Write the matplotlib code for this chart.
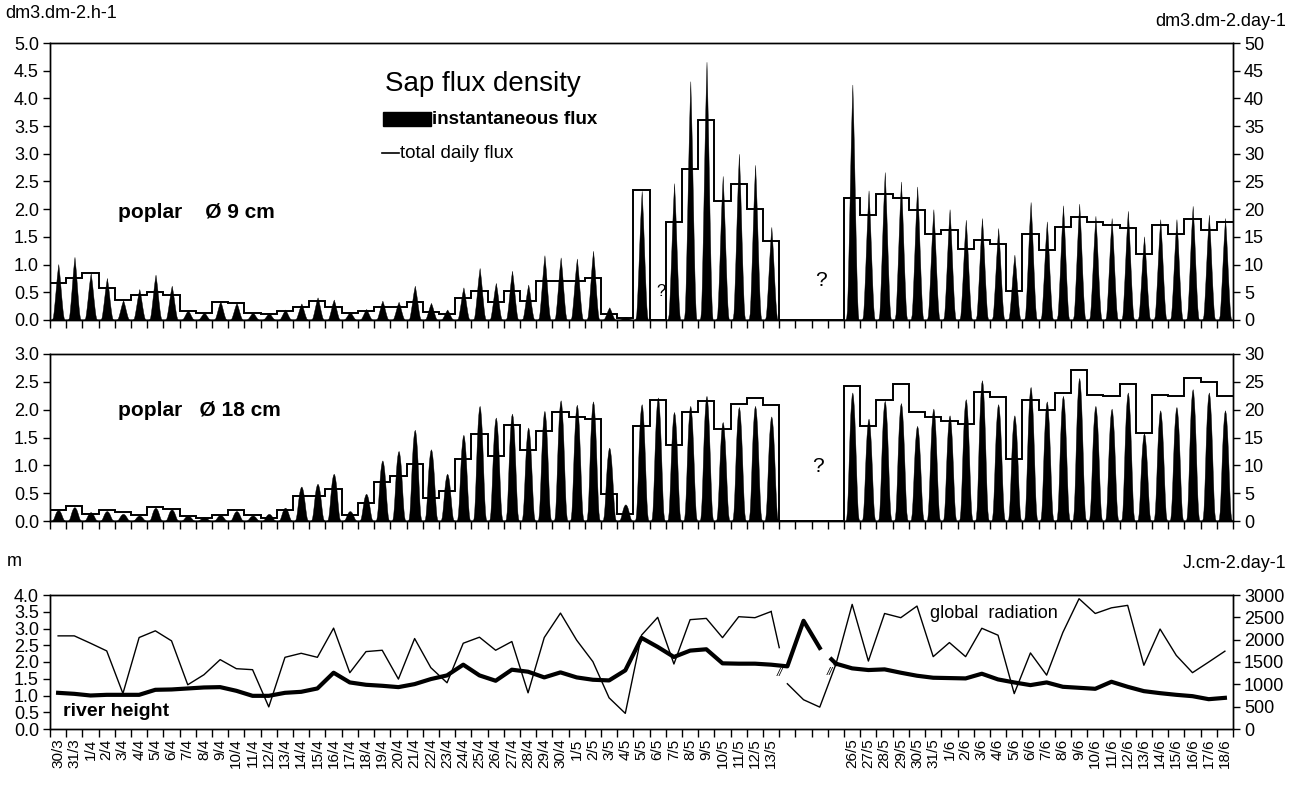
import numpy as np
import matplotlib
matplotlib.use("Agg")
import matplotlib.pyplot as plt
from matplotlib.ticker import FormatStrFormatter
from matplotlib.patches import Rectangle
from matplotlib.lines import Line2D

plt.rcParams['font.family'] = ['Liberation Sans', 'DejaVu Sans']

nan = np.nan

# ---------------- data ----------------
day_labels = ["30/3", "31/3",
              "1/4", "2/4", "3/4", "4/4", "5/4", "6/4", "7/4", "8/4", "9/4", "10/4",
              "11/4", "12/4", "13/4", "14/4", "15/4", "16/4", "17/4", "18/4", "19/4", "20/4",
              "21/4", "22/4", "23/4", "24/4", "25/4", "26/4", "27/4", "28/4", "29/4", "30/4",
              "1/5", "2/5", "3/5", "4/5", "5/5", "6/5", "7/5", "8/5", "9/5", "10/5",
              "11/5", "12/5", "13/5",
              "", "", "", "",
              "26/5", "27/5", "28/5", "29/5", "30/5", "31/5",
              "1/6", "2/6", "3/6", "4/6", "5/6", "6/6", "7/6", "8/6", "9/6", "10/6",
              "11/6", "12/6", "13/6", "14/6", "15/6", "16/6", "17/6", "18/6"]

# poplar 9 cm: daily peak of instantaneous flux (dm3.dm-2.h-1)
peak_9cm = [1.00, 1.13, 0.84, 0.75, 0.35, 0.55, 0.81, 0.61, 0.17, 0.13,
            0.33, 0.30, 0.13, 0.12, 0.18, 0.29, 0.40, 0.36, 0.14, 0.19,
            0.34, 0.32, 0.61, 0.30, 0.18, 0.58, 0.93, 0.66, 0.88, 0.63,
            1.16, 1.12, 1.10, 1.24, 0.22, 0.05, 2.32, nan, 2.46, 4.30,
            4.65, 2.59, 2.99, 2.79, 1.67, nan, nan, nan, nan, 4.24,
            2.33, 2.66, 2.49, 2.40, 1.99, 1.99, 1.80, 1.83, 1.65, 1.17,
            2.12, 1.77, 2.06, 2.09, 1.87, 1.83, 1.96, 1.50, 1.81, 1.81,
            2.05, 1.89, 1.83]
# poplar 9 cm: total daily flux (dm3.dm-2.day-1)
daily_9cm = [6.7, 7.6, 8.4, 5.7, 3.6, 4.6, 5.1, 4.6, 1.6, 1.2,
             3.3, 3.0, 1.2, 1.0, 1.7, 2.4, 3.5, 2.4, 1.2, 1.7,
             2.4, 2.4, 3.2, 1.4, 1.1, 3.9, 5.3, 3.3, 5.2, 3.4,
             7.0, 7.1, 7.1, 7.6, 1.0, 0.3, 23.5, 0.0, 17.7, 27.2,
             36.1, 21.4, 24.5, 20.1, 14.3, 0.0, 0.0, 0.0, 0.0, 22.1,
             19.0, 22.7, 22.0, 19.8, 15.6, 16.2, 12.9, 14.4, 13.8, 5.3,
             15.6, 12.7, 16.8, 18.6, 17.6, 17.2, 16.6, 12.0, 17.1, 15.5,
             18.3, 16.2, 17.7]

# poplar 18 cm
peak_18cm = [0.19, 0.24, 0.15, 0.17, 0.12, 0.09, 0.23, 0.20, 0.09, 0.06,
             0.10, 0.17, 0.09, 0.12, 0.23, 0.61, 0.66, 0.84, 0.17, 0.48,
             1.08, 1.25, 1.63, 1.28, 0.84, 1.54, 2.06, 1.85, 1.92, 1.67,
             1.97, 2.16, 2.08, 2.14, 1.31, 0.29, 2.09, 2.21, 1.95, 2.06,
             2.24, 1.77, 2.04, 2.06, 1.87, nan, nan, nan, nan, 2.30,
             1.83, 2.15, 2.11, 1.70, 2.01, 1.89, 2.18, 2.52, 2.09, 1.89,
             2.40, 2.14, 2.24, 2.56, 2.06, 2.01, 2.30, 1.57, 1.98, 2.04,
             2.36, 2.30, 1.98]
daily_18cm = [2.0, 2.7, 1.3, 1.9, 1.6, 1.0, 2.5, 2.2, 0.9, 0.6,
              1.0, 1.9, 1.0, 0.5, 1.9, 4.5, 4.5, 5.8, 1.0, 3.2,
              7.0, 8.0, 10.3, 4.2, 5.4, 11.2, 15.7, 11.7, 17.2, 12.7,
              16.2, 19.5, 18.7, 18.4, 4.9, 1.2, 17.0, 21.7, 13.6, 19.5,
              21.5, 16.5, 21.0, 22.1, 20.8, 0.0, 0.0, 0.0, 0.0, 24.2,
              17.1, 21.8, 24.7, 19.5, 18.7, 17.9, 17.4, 23.2, 22.3, 11.2,
              21.7, 19.9, 23.0, 27.1, 22.6, 22.4, 24.6, 15.8, 22.7, 22.5,
              25.7, 25.0, 22.4]

# river height (m)
river_height = [1.08, 1.05, 1.00, 1.02, 1.02, 1.02, 1.17, 1.18, 1.21, 1.24,
                1.25, 1.14, 0.99, 0.99, 1.08, 1.11, 1.21, 1.68, 1.39, 1.32,
                1.29, 1.25, 1.34, 1.49, 1.60, 1.92, 1.60, 1.44, 1.77, 1.71,
                1.54, 1.69, 1.54, 1.47, 1.45, 1.75, 2.72, 2.45, 2.15, 2.34,
                2.38, 1.96, 1.95, 1.95, 1.92, 1.87, 3.23, 2.42, 1.95, 1.81,
                1.76, 1.78, 1.68, 1.59, 1.53, 1.52, 1.51, 1.65, 1.48, 1.39,
                1.31, 1.39, 1.26, 1.23, 1.20, 1.41, 1.26, 1.13, 1.07, 1.02,
                0.98, 0.89, 0.93]
# global radiation (J.cm-2.day-1)
global_radiation = [2085, 2085, 1920, 1748, 795, 2048, 2198, 1973, 990, 1215,
                    1553, 1350, 1328, 495, 1605, 1695, 1605, 2258, 1260, 1733,
                    1763, 1118, 2025, 1373, 1035, 1920, 2055, 1763, 1958, 810,
                    2048, 2595, 1988, 1508, 698, 350, 2100, 2500, 1455, 2448,
                    2476, 2045, 2514, 2492, 2630, 1013, 655, 490, 1455, 2790,
                    1521, 2586, 2492, 2752, 1620, 1935, 1620, 2255, 2100, 792,
                    1703, 1206, 2161, 2917, 2586, 2713, 2768, 1427, 2238, 1648,
                    1261, 1499, 1742]
radiation_break = 45   # break between day 44 and 45
river_break = 48       # break between day 47 and 48

# hourly shape of the instantaneous flux (fraction of the daily peak, hours 0-23)
profile_9cm = [0, 0, 0, 0, 0.01, 0.04, 0.13, 0.25, 0.38, 0.52, 0.66, 0.79,
               0.90, 1.00, 0.89, 0.77, 0.63, 0.48, 0.34, 0.21, 0.10, 0.03, 0, 0]
profile_18cm = [0, 0, 0, 0, 0.02, 0.08, 0.20, 0.36, 0.54, 0.70, 0.83, 0.92,
                0.98, 1.00, 0.97, 0.90, 0.80, 0.66, 0.50, 0.33, 0.18, 0.07, 0.02, 0]

# ---------------- figure ----------------
W, H = 1292, 811
fig = plt.figure(figsize=(W / 100, H / 100), dpi=100)


def add_ax(top, bottom, left=50, right=1233):
    return fig.add_axes([left / W, 1 - bottom / H, (right - left) / W, (bottom - top) / H])


def ftext(x, y, s, **kw):
    fig.text(x / W, 1 - y / H, s, **kw)


ndays = len(day_labels)
edges = np.arange(ndays + 1)
centers = edges[:-1] + 0.5


def diurnal(peaks, profile):
    prof = np.asarray(profile, dtype=float)
    hours = np.arange(len(prof)) / len(prof)
    xs, ys = [], []
    for i, p in enumerate(peaks):
        xs.append(i + hours)
        ys.append(p * prof)
    xs.append([ndays])
    ys.append([0.0])
    return np.concatenate(xs), np.concatenate(ys)


def style(ax, ax2, ymax_l, ymax_r, step_r, labels=False):
    ax.set_xlim(0, ndays)
    ax.set_ylim(0, ymax_l)
    ax2.set_ylim(0, ymax_r)
    ax.set_yticks(np.arange(0, ymax_l + 1e-9, 0.5))
    ax.yaxis.set_major_formatter(FormatStrFormatter('%.1f'))
    ax2.set_yticks(np.arange(0, ymax_r + 1e-9, step_r))
    ax.set_xticks(edges)
    ax.set_xticklabels([])
    ax.tick_params(axis='x', which='major', direction='out', length=6, width=1)
    ax.tick_params(axis='y', direction='out', length=5, width=1, labelsize=13, pad=3)
    ax2.tick_params(axis='y', direction='out', length=5, width=1, labelsize=13, pad=3)
    if labels:
        ax.set_xticks(centers, minor=True)
        ax.set_xticklabels(day_labels, minor=True, rotation=90, fontsize=11)
        ax.tick_params(axis='x', which='minor', length=0, pad=7)
    for a in (ax, ax2):
        for sp in a.spines.values():
            sp.set_linewidth(1.0)
            sp.set_color('black')


# ---- top panel: poplar 9 cm ----
ax1 = add_ax(43, 320)
ax1r = ax1.twinx()
xh, yh = diurnal(peak_9cm, profile_9cm)
ax1.fill_between(xh, 0, yh, color='black', lw=0.3, edgecolor='black')
ax1r.stairs(daily_9cm, edges, baseline=None, color='black', lw=1.4)
style(ax1, ax1r, 5.0, 50, 5)

# ---- middle panel: poplar 18 cm ----
ax2 = add_ax(354, 521)
ax2r = ax2.twinx()
xh, yh = diurnal(peak_18cm, profile_18cm)
ax2.fill_between(xh, 0, yh, color='black', lw=0.3, edgecolor='black')
ax2r.stairs(daily_18cm, edges, baseline=None, color='black', lw=1.4)
style(ax2, ax2r, 3.0, 30, 5)

# ---- bottom panel: river height + global radiation ----
ax3 = add_ax(595, 729)
ax3r = ax3.twinx()
rh = np.asarray(river_height, dtype=float)
gr = np.asarray(global_radiation, dtype=float)
b = radiation_break
ax3r.plot(centers[:b], gr[:b], color='black', lw=1.0)
ax3r.plot(centers[b:], gr[b:], color='black', lw=1.0)
ax3r.plot([centers[b - 1], centers[b - 1] + 0.5], [gr[b - 1], gr[b - 1] + 0.5 * (gr[b] - gr[b - 1])],
          color='black', lw=1.0)
r = river_break
ax3.plot(centers[:r], rh[:r], color='black', lw=3.0, solid_joinstyle='round')
ax3.plot(centers[r:], rh[r:], color='black', lw=3.0, solid_joinstyle='round')
ax3.plot([centers[r - 1] + 0.72, centers[r]], [rh[r - 1] + 0.72 * (rh[r] - rh[r - 1]), rh[r]],
         color='black', lw=3.0)
style(ax3, ax3r, 4.0, 3000, 500, labels=True)
ax3.set_zorder(ax3r.get_zorder() + 1)
ax3.patch.set_visible(False)

# ---------------- texts ----------------
ftext(5, 14, "dm3.dm-2.h-1", fontsize=13, va='center', ha='left')
ftext(1286, 22, "dm3.dm-2.day-1", fontsize=13, va='center', ha='right')
ftext(385, 84, "Sap flux density", fontsize=20, va='center', ha='left')
fig.patches.append(Rectangle((383 / W, 1 - 126 / H), 48 / W, 14 / H, transform=fig.transFigure,
                             facecolor='black', edgecolor='black'))
ftext(432, 119, "instantaneous flux", fontsize=13.5, fontweight='bold', va='center', ha='left')
fig.lines.append(Line2D([382 / W, 399 / W], [1 - 153 / H, 1 - 153 / H], transform=fig.transFigure,
                        color='black', lw=1.2))
ftext(400, 153, "total daily flux", fontsize=13.5, va='center', ha='left')
ftext(118, 213, "poplar    \u00d8 9 cm", fontsize=15, fontweight='bold', va='center', ha='left')
ftext(661, 292, "?", fontsize=12, va='center', ha='center')
ftext(821, 281, "?", fontsize=15, va='center', ha='center')
ftext(118, 411, "poplar   \u00d8 18 cm", fontsize=15, fontweight='bold', va='center', ha='left')
ftext(818, 466, "?", fontsize=15, va='center', ha='center')
ftext(7, 562, "m", fontsize=13, va='center', ha='left')
ftext(1286, 563, "J.cm-2.day-1", fontsize=13, va='center', ha='right')
ftext(63, 712, "river height", fontsize=14, fontweight='bold', va='center', ha='left')
ftext(930, 613, "global  radiation", fontsize=13, va='center', ha='left')
ftext(780, 673, "//", fontsize=8, va='center', ha='center', style='italic')
ftext(830, 672, "//", fontsize=8, va='center', ha='center', style='italic')

fig.savefig("out.png", dpi=100, facecolor='white')
